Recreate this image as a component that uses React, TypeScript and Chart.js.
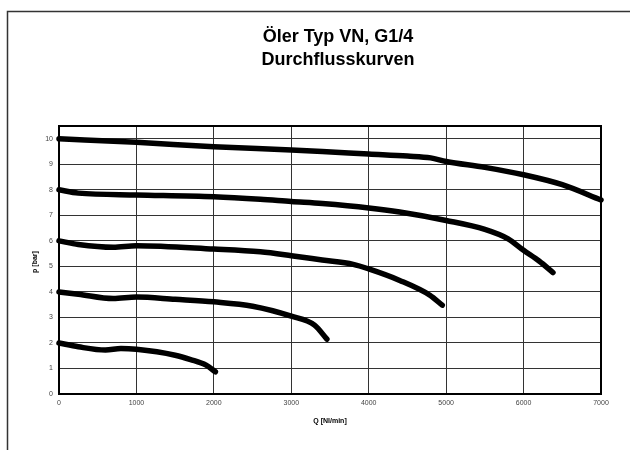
import React, { useEffect, useRef } from "react";
import { Chart, registerables } from "chart.js";

Chart.register(...registerables);

const titleLines = ["Öler Typ VN, G1/4", "Durchflusskurven"];
const xTitle = "Q [Nl/min]";
const yTitle = "p [bar]";

const q10 = [0, 1000, 2000, 3000, 3400, 4000, 4500, 4800, 5000, 5500, 6000, 6500, 7000];
const p10 = [10, 9.86, 9.69, 9.56, 9.5, 9.4, 9.32, 9.25, 9.11, 8.88, 8.59, 8.2, 7.6];

const q8 = [0, 250, 1000, 2000, 2600, 3000, 3400, 4000, 4400, 5000, 5500, 5800, 6000, 6200, 6380];
const p8 = [8, 7.87, 7.8, 7.73, 7.63, 7.54, 7.46, 7.29, 7.13, 6.8, 6.45, 6.08, 5.63, 5.21, 4.76];

const q6 = [0, 250, 700, 1000, 2000, 2600, 3000, 3400, 3800, 4000, 4400, 4790, 4950];
const p6 = [6, 5.86, 5.75, 5.81, 5.68, 5.57, 5.42, 5.25, 5.08, 4.9, 4.45, 3.87, 3.48];

const q4 = [0, 250, 700, 1000, 1500, 2000, 2500, 3000, 3300, 3460];
const p4 = [4, 3.91, 3.74, 3.8, 3.71, 3.61, 3.44, 3.05, 2.7, 2.15];

const q2 = [0, 250, 600, 800, 1000, 1500, 1700, 1900, 2020];
const p2 = [2, 1.85, 1.72, 1.78, 1.75, 1.52, 1.35, 1.13, 0.87];

const seriesQ = [q10, q8, q6, q4, q2];
const seriesP = [p10, p8, p6, p4, p2];

const FONT = "'Liberation Sans', Arial, sans-serif";

const decorPlugin = {
  id: "decor",
  beforeDraw(chart: any) {
    const ctx = chart.ctx;
    ctx.save();
    ctx.fillStyle = "#ffffff";
    ctx.fillRect(0, 0, chart.width, chart.height);
    ctx.restore();
  },
  afterDraw(chart: any) {
    const ctx = chart.ctx;
    const a = chart.chartArea;
    ctx.save();
    ctx.strokeStyle = "#333333";
    ctx.lineWidth = 1.5;
    ctx.beginPath();
    ctx.moveTo(7.5, 450);
    ctx.lineTo(7.5, 11.5);
    ctx.lineTo(630, 11.5);
    ctx.stroke();
    ctx.strokeStyle = "#000000";
    ctx.lineWidth = 2;
    ctx.strokeRect(a.left, a.top, a.right - a.left, a.bottom - a.top);
    ctx.fillStyle = "#000000";
    ctx.textAlign = "center";
    ctx.textBaseline = "middle";
    ctx.font = `bold 18px ${FONT}`;
    ctx.fillText(titleLines[0], 338, 37);
    ctx.fillText(titleLines[1], 338, 60);
    ctx.font = `bold 7px ${FONT}`;
    ctx.fillText(xTitle, (a.left + a.right) / 2, 421);
    ctx.translate(35, (a.top + a.bottom) / 2 + 2);
    ctx.rotate(-Math.PI / 2);
    ctx.fillText(yTitle, 0, 0);
    ctx.restore();
  },
};

export default function App() {
  const ref = useRef<HTMLCanvasElement | null>(null);
  useEffect(() => {
    if (!ref.current) return;
    const datasets = seriesQ.map((qs, i) => ({
      label: `s${i}`,
      data: qs.map((q, j) => ({ x: q, y: seriesP[i][j] })),
      borderColor: "#000000",
      backgroundColor: "#000000",
      borderWidth: 5.5,
      borderCapStyle: "round" as const,
      borderJoinStyle: "round" as const,
      pointRadius: 0,
      cubicInterpolationMode: "monotone" as const,
      fill: false,
      clip: 6,
    }));
    const chart = new Chart(ref.current, {
      type: "line",
      data: { datasets },
      plugins: [decorPlugin],
      options: {
        animation: false,
        responsive: false,
        layout: { padding: { left: 0, right: 29, top: 126, bottom: 0 } },
        plugins: {
          legend: { display: false },
          title: { display: false },
          tooltip: { enabled: false },
        },
        scales: {
          x: {
            type: "linear",
            min: 0,
            max: 7000,
            afterFit: (s: any) => {
              s.height = 56;
            },
            ticks: {
              stepSize: 1000,
              padding: 5,
              color: "#444444",
              font: { family: FONT, size: 7 },
              maxRotation: 0,
              callback: (v: any) => String(v),
            },
            grid: { color: "#333333", lineWidth: 1, drawTicks: false },
            border: { display: false },
          },
          y: {
            type: "linear",
            min: 0,
            max: 10.5,
            afterFit: (s: any) => {
              s.width = 59;
            },
            afterBuildTicks: (s: any) => {
              s.ticks = s.ticks.filter((t: any) => t.value <= 10);
            },
            ticks: {
              stepSize: 1,
              padding: 6,
              color: "#444444",
              font: { family: FONT, size: 7 },
              callback: (v: any) => String(v),
            },
            grid: { color: "#333333", lineWidth: 1, drawTicks: false },
            border: { display: false },
          },
        },
      },
    });
    return () => chart.destroy();
  }, []);
  return (
    <div style={{ position: "absolute", left: 0, top: 0, width: 630, height: 450, background: "#fff" }}>
      <canvas ref={ref} width={630} height={450} style={{ display: "block" }} />
    </div>
  );
}
